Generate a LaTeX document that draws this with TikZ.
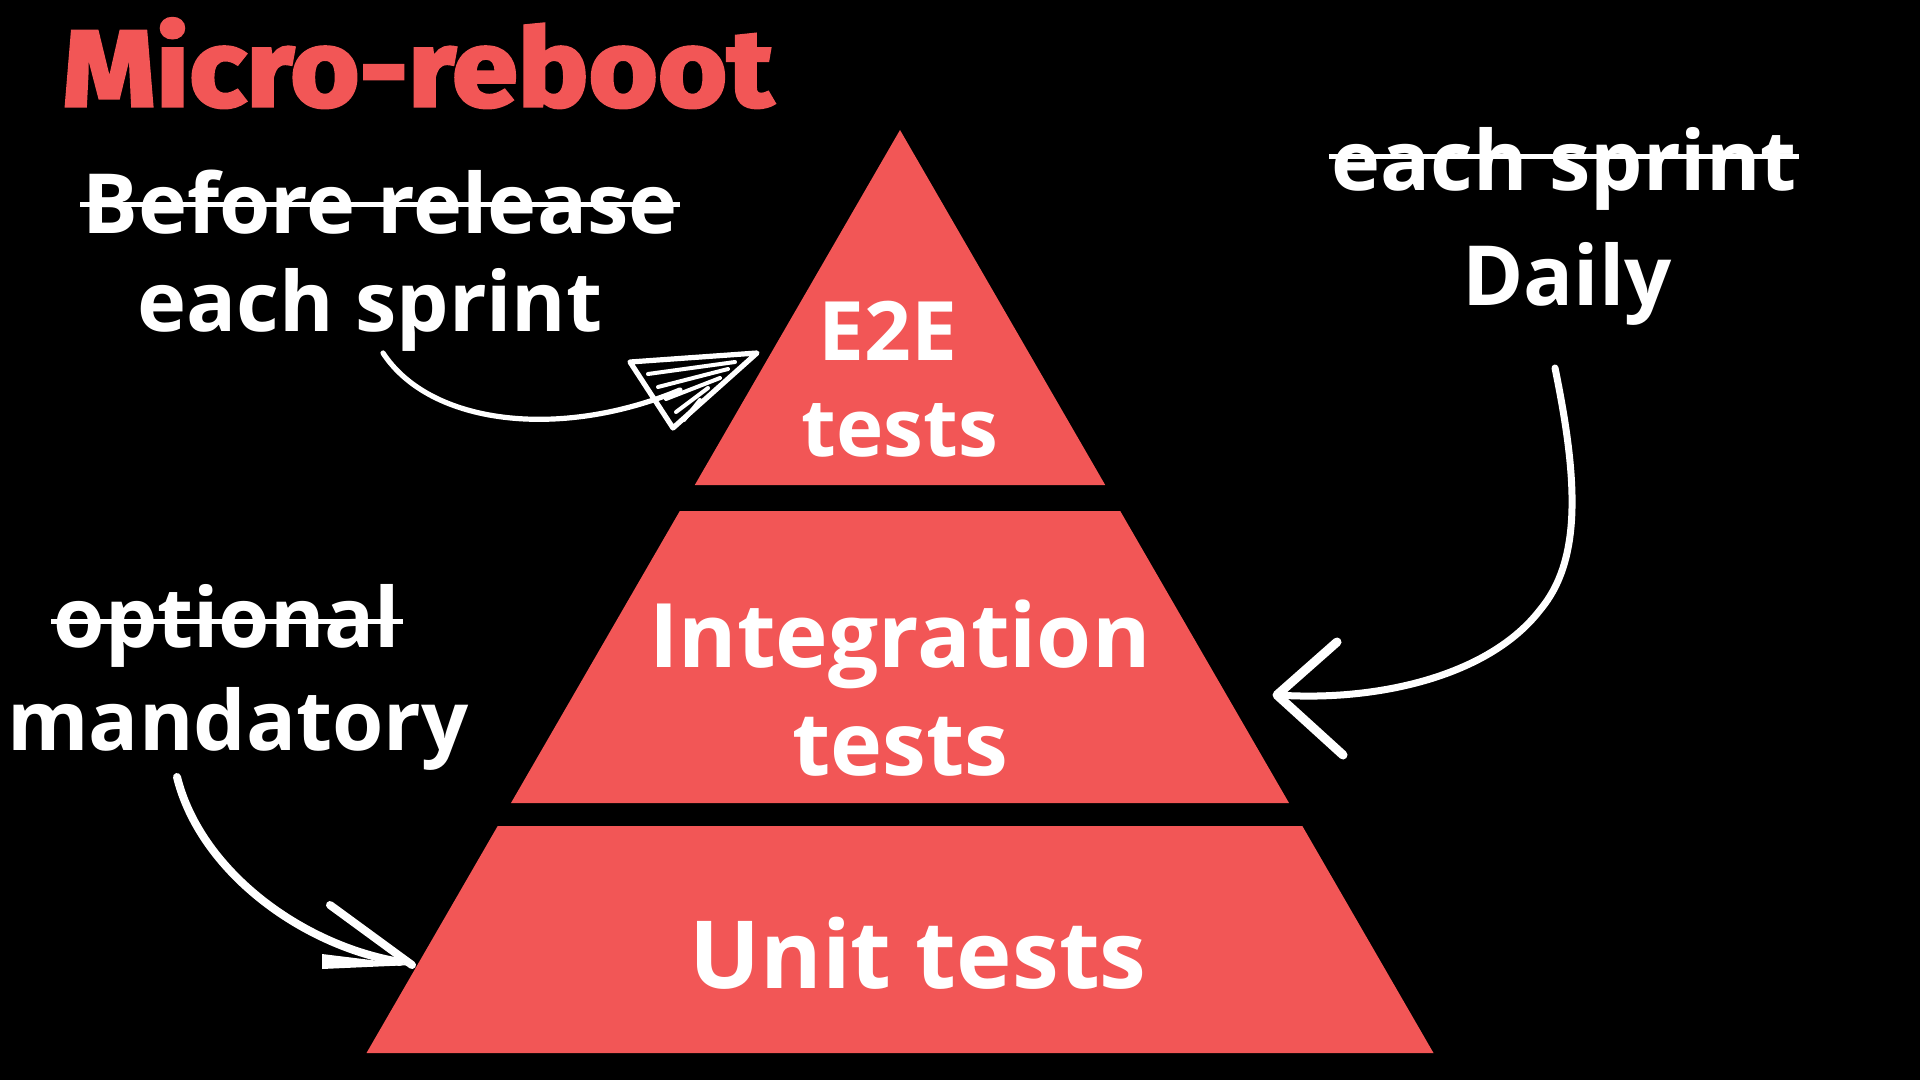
\documentclass[tikz,border=0pt]{standalone}
\usepackage{fontspec}
\setmainfont{Open Sans}
\newfontfamily\titlefont{Fira Sans}[BoldFeatures={FakeBold=3,FakeStretch=1.1}]
\usetikzlibrary{positioning}
\definecolor{pyred}{HTML}{F25656}
\newcommand{\lblfont}{\fontsize{41.5}{48}\selectfont\bfseries}
\newcommand{\pyrfont}[1]{\fontsize{#1}{#1}\selectfont\bfseries}

\begin{document}
\begin{tikzpicture}[x=0.5pt,y=-0.5pt,
    lbl/.style={text=white,font=\lblfont,inner sep=0pt,anchor=base},
    pyr/.style={text=white,font=\pyrfont{#1},inner sep=0pt,anchor=base},
    strike/.style={white,line width=2.5pt},
    chalk/.style={white,line cap=round,line join=round},
    layer/.style={fill=pyred}]
    % Background
    \fill[black] (0,0) rectangle (1920,1080);
    % Draw the three pyramid layers
    \fill[layer] (900,130) -- (1105.2,485) -- (694.8,485) -- cycle;
    \fill[layer] (679.8,511) -- (1120.2,511) -- (1289,803) -- (511,803) -- cycle;
    \fill[layer] (497.7,826) -- (1302.3,826) -- (1433.5,1053) -- (366.5,1053) -- cycle;
    % Layer texts
    \node[pyr=41] (e2e) at (888,360) {E2E};
    \node[pyr=40] (e2etests) at (900,456) {tests};
    \node[pyr=44.5] (integ) at (900,667) {Integration};
    \node[pyr=44] (integtests) at (900,775) {tests};
    \node[pyr=47] (unit) at (918,988) {Unit tests};
    % Title
    \node[anchor=base west,inner sep=0pt,text=pyred,
        font=\titlefont\bfseries\fontsize{54}{58}\selectfont] (title) at (62,106) {Micro-reboot};
    % Left labels
    \node[lbl] (before) at (380,234) {Before release};
    \draw[strike] ([xshift=-1pt,yshift=14.5pt]before.base west) -- ([xshift=1pt,yshift=14.5pt]before.base east);
    \node[lbl] (sprintL) at (370,332) {each sprint};
    \node[lbl] (optional) at (227,647) {optional};
    \draw[strike] ([xshift=-1pt,yshift=13pt]optional.base west) -- ([xshift=1pt,yshift=13pt]optional.base east);
    \node[lbl] (mandatory) at (238,750) {mandatory};
    % Right labels
    \node[lbl] (sprintR) at (1564,191) {each sprint};
    \draw[strike] ([xshift=-1pt,yshift=17pt]sprintR.base west) -- ([xshift=1pt,yshift=17pt]sprintR.base east);
    \node[lbl] (daily) at (1567,306) {Daily};
    % Arrow from each sprint to E2E
    \coordinate (sprintTail) at (383,353);
    \coordinate (e2eTip) at (757,353);
    \draw[chalk,line width=2.6pt] (sprintTail) .. controls (430,425) and (560,440) .. (680,390);
    \draw[chalk,line width=2.6pt] (630,362) -- (e2eTip) -- (673,428) -- cycle;
    \draw[chalk,line width=2pt] (648,374) -- (735,362) (658,387) -- (728,369)
        (666,399) -- (720,378) (676,412) -- (708,388) (684,420) -- (700,400);
    % Arrow from Daily to Integration
    \coordinate (dailyTail) at (1555,368);
    \coordinate (integTip) at (1277,695);
    \draw[chalk,line width=3.5pt] (dailyTail) .. controls (1578,480) and (1582,560) .. (1540,610)
        .. controls (1490,675) and (1380,702) .. (integTip);
    \draw[chalk,line width=4.5pt] (1337,642) -- (integTip) -- (1343,755);
    % Arrow from mandatory to Unit tests
    \coordinate (mandTail) at (177,777);
    \coordinate (unitTip) at (412,965);
    \draw[chalk,line width=4pt] (mandTail) .. controls (200,870) and (300,945) .. (400,962);
    \draw[chalk,line width=4pt] (330,905) -- (unitTip);
    \fill[white] (322,954) -- (unitTip) -- (322,969) -- cycle;
\end{tikzpicture}
\end{document}
